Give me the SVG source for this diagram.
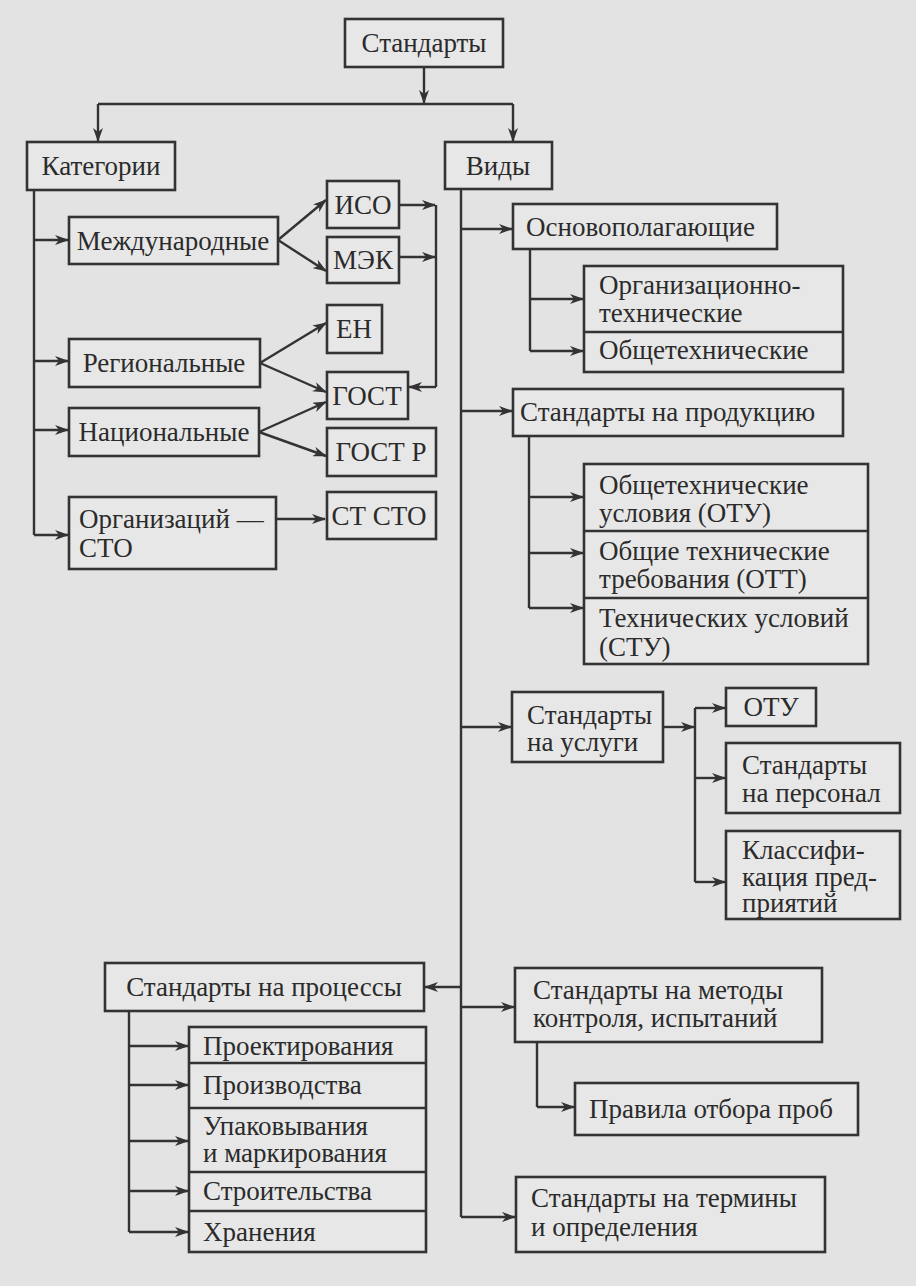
<svg xmlns="http://www.w3.org/2000/svg" width="916" height="1286" viewBox="0 0 916 1286">
<style>
.b{fill:#e7e7e7;stroke:#333;stroke-width:2.6}
.d{fill:none;stroke:#333;stroke-width:2.4}
.t text{font-family:'Liberation Serif','Tinos','Noto Serif','PT Serif','FreeSerif','Times New Roman','DejaVu Serif',serif;font-size:27px;fill:#2b2b2b}
.c{text-anchor:middle}
.ln{fill:none;stroke:#333;stroke-width:2.4}
.a{fill:none;stroke:#333;stroke-width:2.4;marker-end:url(#ah)}
</style>
<defs>
<marker id="ah" viewBox="0 0 14 10" refX="13" refY="5" markerWidth="14" markerHeight="10" markerUnits="userSpaceOnUse" orient="auto">
<path d="M0,0 L14,5 L0,10 L4,5 z" fill="#333"/>
</marker>
</defs>
<rect width="916" height="1286" fill="#e3e3e3"/>

<g id="connectors">
<path class="a" d="M424,67 V103"/>
<path class="ln" d="M98,104 H513"/>
<path class="a" d="M98,104 V141"/>
<path class="a" d="M513,104 V141"/>
<path class="ln" d="M34,190 V535"/>
<path class="a" d="M34,240 H68"/>
<path class="a" d="M34,361 H68"/>
<path class="a" d="M34,430 H68"/>
<path class="a" d="M34,535 H68"/>
<path class="a" d="M278,240 L326,200"/>
<path class="a" d="M278,240 L326,271"/>
<path class="a" d="M260,363 L326,323"/>
<path class="a" d="M260,363 L326,392"/>
<path class="a" d="M259,432 L326,402"/>
<path class="a" d="M259,432 L326,456"/>
<path class="a" d="M276,519 H325"/>
<path class="a" d="M399,205 H435"/>
<path class="a" d="M399,257 H435"/>
<path class="ln" d="M436,205 V387"/>
<path class="a" d="M436,387 H409"/>
<path class="ln" d="M461,189 V1217"/>
<path class="a" d="M461,229 H512"/>
<path class="a" d="M461,411 H512"/>
<path class="a" d="M461,727 H511"/>
<path class="a" d="M461,1007 H514"/>
<path class="a" d="M461,1217 H515"/>
<path class="a" d="M461,987 H425"/>
<path class="ln" d="M530,249 V351"/>
<path class="a" d="M530,299 H583"/>
<path class="a" d="M530,351 H583"/>
<path class="ln" d="M529,436 V608"/>
<path class="a" d="M529,497 H583"/>
<path class="a" d="M529,553 H583"/>
<path class="a" d="M529,608 H583"/>
<path class="a" d="M663,727 H694"/>
<path class="ln" d="M695,708 V882"/>
<path class="a" d="M695,708 H725"/>
<path class="a" d="M695,778 H725"/>
<path class="a" d="M695,882 H725"/>
<path class="ln" d="M537,1042 V1107"/>
<path class="a" d="M537,1107 H574"/>
<path class="ln" d="M129,1011 V1232"/>
<path class="a" d="M129,1046 H188"/>
<path class="a" d="M129,1085 H188"/>
<path class="a" d="M129,1141 H188"/>
<path class="a" d="M129,1191 H188"/>
<path class="a" d="M129,1232 H188"/>
</g>

<g class="t">
<g id="standarty"><rect class="b" x="345" y="19" width="158" height="48"/><text class="c" x="424" y="52">Стандарты</text></g>
<g id="kategorii"><rect class="b" x="27" y="142" width="148" height="48"/><text class="c" x="101" y="175">Категории</text></g>
<g id="vidy"><rect class="b" x="445" y="142" width="107" height="47"/><text class="c" x="498" y="175">Виды</text></g>
<g id="mezhd"><rect class="b" x="69" y="217" width="209" height="47"/><text class="c" x="173" y="250">Международные</text></g>
<g id="iso"><rect class="b" x="327" y="181" width="72" height="47"/><text class="c" x="363" y="214">ИСО</text></g>
<g id="mek"><rect class="b" x="327" y="237" width="72" height="46"/><text class="c" x="363" y="269">МЭК</text></g>
<g id="en"><rect class="b" x="327" y="305" width="55" height="48"/><text class="c" x="354" y="338">ЕН</text></g>
<g id="region"><rect class="b" x="69" y="339" width="191" height="48"/><text class="c" x="164" y="372">Региональные</text></g>
<g id="gost"><rect class="b" x="327" y="372" width="81" height="47"/><text class="c" x="367" y="405">ГОСТ</text></g>
<g id="nacion"><rect class="b" x="69" y="408" width="190" height="48"/><text class="c" x="164" y="441">Национальные</text></g>
<g id="gostr"><rect class="b" x="327" y="428" width="109" height="48"/><text class="c" x="381" y="461">ГОСТ Р</text></g>
<g id="org"><rect class="b" x="69" y="497" width="207" height="72"/><text x="79" y="528">Организаций —</text><text x="79" y="557">СТО</text></g>
<g id="stsTO"><rect class="b" x="327" y="492" width="109" height="47"/><text class="c" x="379" y="525">СТ СТО</text></g>
<g id="osnov"><rect class="b" x="513" y="204" width="264" height="45"/><text x="526" y="236">Основополагающие</text></g>
<g id="orgtech"><rect class="b" x="584" y="266" width="259" height="106"/><path class="d" d="M584,332 H843"/><text x="599" y="294">Организационно-</text><text x="599" y="322">технические</text><text x="599" y="359">Общетехнические</text></g>
<g id="produk"><rect class="b" x="513" y="389" width="330" height="47"/><text x="520" y="421">Стандарты на продукцию</text></g>
<g id="otu-group"><rect class="b" x="584" y="464" width="284" height="200"/><path class="d" d="M584,531 H868 M584,598 H868"/><text x="599" y="494">Общетехнические</text><text x="599" y="522">условия (ОТУ)</text><text x="599" y="560">Общие технические</text><text x="599" y="588">требования (ОТТ)</text><text x="599" y="627">Технических условий</text><text x="599" y="656">(СТУ)</text></g>
<g id="uslugi"><rect class="b" x="512" y="692" width="151" height="70"/><text x="527" y="724">Стандарты</text><text x="527" y="751">на услуги</text></g>
<g id="otu"><rect class="b" x="726" y="688" width="90" height="38"/><text class="c" x="771" y="716">ОТУ</text></g>
<g id="personal"><rect class="b" x="726" y="743" width="174" height="70"/><text x="742" y="774">Стандарты</text><text x="742" y="802">на персонал</text></g>
<g id="klass"><rect class="b" x="726" y="831" width="174" height="88"/><text x="742" y="859">Классифи-</text><text x="742" y="886">кация пред-</text><text x="742" y="912">приятий</text></g>
<g id="processy"><rect class="b" x="105" y="963" width="319" height="48"/><text class="c" x="264" y="996">Стандарты на процессы</text></g>
<g id="proc-group"><rect class="b" x="189" y="1027" width="237" height="225"/><path class="d" d="M189,1063 H426 M189,1108 H426 M189,1172 H426 M189,1211 H426"/><text x="203" y="1055">Проектирования</text><text x="203" y="1094">Производства</text><text x="203" y="1135">Упаковывания</text><text x="203" y="1162">и маркирования</text><text x="203" y="1200">Строительства</text><text x="203" y="1241">Хранения</text></g>
<g id="metody"><rect class="b" x="515" y="968" width="307" height="74"/><text x="533" y="999">Стандарты на методы</text><text x="533" y="1027">контроля, испытаний</text></g>
<g id="pravila"><rect class="b" x="575" y="1083" width="283" height="52"/><text x="589" y="1118">Правила отбора проб</text></g>
<g id="terminy"><rect class="b" x="516" y="1177" width="309" height="75"/><text x="531" y="1207">Стандарты на термины</text><text x="531" y="1236">и определения</text></g>
</g>
</svg>
